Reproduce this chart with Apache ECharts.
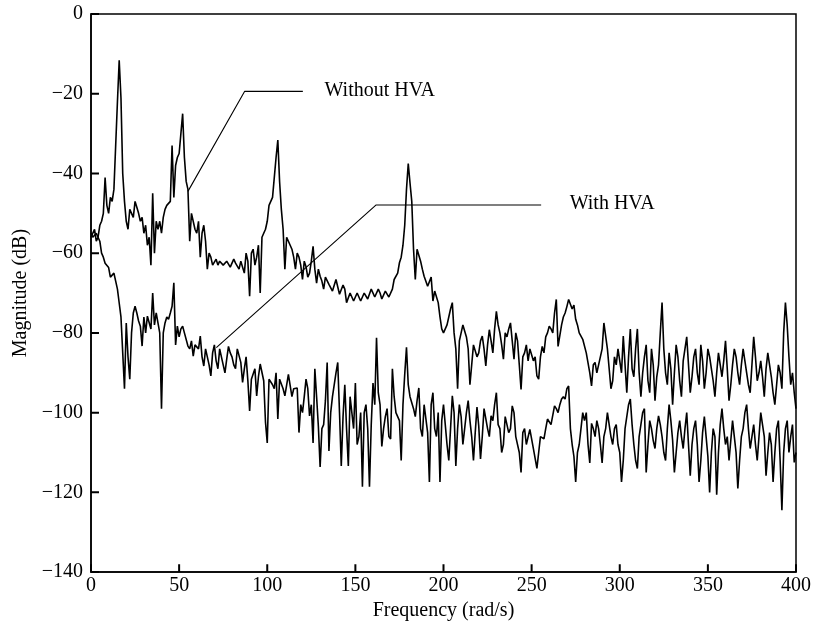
<!DOCTYPE html>
<html>
<head>
<meta charset="utf-8">
<script src="https://cdn.jsdelivr.net/npm/echarts@6/dist/echarts.min.js"></script>
<style>
html,body{margin:0;padding:0;background:#fff;}
#chart{width:814px;height:626px;}
</style>
</head>
<body>
<div id="chart"></div>
<script>
// Frequency grid (rad/s), step 1: x = 0,1,...,400
const step = 1;
// Without HVA magnitude (dB)
const withoutHVA = [
-56,-55,-54,-57,-56,-53,-52,-50,-41,-48,
-50,-46,-47,-44,-33,-22,-11.6,-21,-40,-47,
-52,-54,-49,-50,-51,-47,-48.5,-50,-52,-51,
-55,-53,-58,-56,-63,-45,-60,-52,-54,-52,
-55,-51,-49,-48,-48.5,-47,-33,-46,-38,-36,
-35,-30,-25,-36,-42,-44,-57,-50,-50,-54,
-55,-52,-61,-55,-53,-57,-64,-60,-61,-63,
-62.5,-61.5,-63,-62,-62,-63,-63.5,-62,-62,-63.5,
-63,-61.5,-62.5,-63,-64,-62,-62,-65,-60,-62,
-70.8,-60,-59,-63,-61,-58,-70,-56,-55,-54,
-52,-48,-48,-46,-45.8,-36,-31.6,-42,-49,-54,
-64,-56,-57,-58,-59,-61,-64,-60,-61,-63,
-66.6,-62,-63.4,-66,-65,-62,-58.3,-64,-67.5,-64,
-65.8,-67,-69,-66,-66,-67.8,-68,-69.5,-69.5,-66.6,
-66.6,-70.3,-70.3,-68,-69,-72.4,-72.4,-70,-71,-72,
-72,-70,-70.5,-72,-71.5,-70,-70,-71.5,-71,-69,
-68.8,-71,-70.5,-69,-70,-71.5,-71,-69.5,-70,-71,
-70.5,-69,-66.6,-67,-65,-62.4,-61,-58,-53,-44,
-37.5,-42.4,-47,-59,-66.6,-59,-59,-62,-64,-65.8,
-66,-68.3,-68.3,-66,-72,-69.5,-70,-72.4,-76,-79,
-80,-79,-78,-76,-74,-72.4,-80,-84,-94,-82,
-80,-78,-78,-81,-84,-93,-93,-83,-83,-86,
-85,-82,-80.8,-84,-88.3,-83,-79.2,-82,-85,-79,
-74.6,-78,-80,-83,-86.6,-80,-81,-79,-77.5,-82,
-86.6,-80,-82,-88,-94.2,-86,-85,-83,-87,-84,
-84,-87,-86,-90.8,-91.6,-86,-83.4,-85,-81,-80,
-78.3,-79,-80,-75,-71.6,-83.4,-83.4,-78,-76,-75,
-73.4,-71.6,-71.6,-74,-73,-76.6,-78,-80,-80,-81.6,
-81.6,-85,-85,-90,-93.3,-88,-87.4,-90,-88,-86,
-84,-77.5,-77.5,-84,-89,-94,-92,-86,-88,-84,
-84,-90,-80.8,-88,-95,-86,-79,-89,-91,-84,
-79,-90,-96,-90,-86,-83,-92,-95,-84,-88,
-97,-91,-88,-80,-72.4,-84,-90,-93,-85,-89,
-98,-90,-83,-86,-92,-96,-87,-84,-81,-88,
-95,-91,-86,-84,-90,-93,-83,-87,-94,-90,
-84,-86,-89,-92,-96,-90,-85,-88,-91,-87,
-82,-89,-97,-93,-88,-84,-86,-90,-93,-88,
-84,-87,-90,-93,-95,-88,-81,-86,-92,-90,
-87,-91,-96,-89,-85,-88,-91,-95,-98,-93,
-88,-90,-94,-80,-72.4,-78,-86,-93,-90,-95,
-99
];
// With HVA magnitude (dB)
const withHVA = [
-55,-56,-56,-55,-54.5,-57,-60,-61,-62.5,-63,
-63.6,-66,-66,-65,-67,-69,-72.5,-76,-85,-94,
-77.5,-86,-91.6,-80,-75,-73.3,-75,-77,-78.3,-83.3,
-76,-80,-75.8,-76,-79,-70,-78,-75,-77.5,-80,
-99,-80,-77.5,-76,-76.6,-75,-73.3,-67.4,-83,-78.3,
-81,-79,-78.3,-80,-80.5,-83.3,-84,-82,-85.8,-83,
-82.5,-84,-80.8,-86,-88.3,-84,-84,-88,-90.8,-85,
-83,-87,-89,-84,-84,-88,-90,-86.6,-83.4,-85,
-86,-88,-89,-84,-84,-87.4,-92.4,-89,-86,-92,
-99.6,-91.6,-91.6,-89,-95.8,-91,-87.8,-87.4,-92,-102.4,
-107.6,-91.6,-91.6,-93,-94,-90,-101.6,-91.6,-91.6,-94,
-95.8,-95.8,-90.4,-90.4,-96,-94,-93.8,-93.8,-105,-98,
-100,-96,-91.6,-94,-100.8,-98,-107.6,-89,-96,-103.4,
-113.6,-104,-103,-97,-87.4,-109.6,-100,-96,-96,-90,
-87.4,-100,-113.4,-101,-93,-104,-113.4,-96,-100,-104,
-92.6,-108,-106,-100,-118.6,-100,-98,-104,-118.6,-103,
-92.6,-98,-81.2,-95,-98,-108.5,-104,-101,-99,-106,
-106.6,-89,-96,-100,-100,-102,-112,-98,-90.4,-83.6,
-93,-96,-96,-99,-101,-97,-93.8,-104,-106,-98,
-97.5,-105,-117.4,-98,-95,-104,-106,-100,-117.4,-102,
-98,-103,-108,-112,-104,-95.8,-100,-113.4,-104,-98,
-101,-108,-104,-100,-97,-102,-106,-112,-105,-98.6,
-103.4,-111.6,-106,-99,-99,-104,-106,-100.8,-102,-98,
-95,-103,-104,-110,-108,-101,-101,-105,-104,-98.3,
-100,-106,-106,-110,-115,-105,-104,-108,-108,-104.2,
-104,-109,-109,-114,-110,-106,-106,-106.6,-104,-101.6,
-101.6,-103,-103,-98.3,-99,-100,-98,-96.6,-96,-96.6,
-94,-93.3,-104,-108,-111,-117.4,-110,-108,-104,-100,
-102,-100,-108,-112.6,-102.7,-104,-106,-102,-104,-108,
-112.6,-106,-104,-100,-100,-106,-108,-104,-103,-108,
-110,-117.4,-112,-104,-101,-98,-96.6,-103,-108,-112,
-114,-106,-103,-100,-99,-115,-108,-102,-104,-107,
-109,-104,-100.8,-103,-106,-110,-112,-104,-98,-102,
-107,-115,-110,-105,-102,-106,-109,-104,-100,-108,
-115.8,-108,-104,-102,-108,-117.4,-112,-105,-101,-106,
-111,-120,-110,-104,-106,-120.6,-110,-103,-99,-104,
-108,-106,-112,-107,-102,-106,-110,-119,-112,-106,
-104,-100,-98,-104,-109,-106,-103,-108,-112,-106,
-100,-103,-106,-115.8,-110,-105,-108,-117.4,-110,-104,
-102,-112,-124.5,-110,-104,-102,-110,-106,-103,-112.5,
-110
];
const xTicks = [0,50,100,150,200,250,300,350,400];
const yTicks = [0,-20,-40,-60,-80,-100,-120,-140];
// Leader lines for the labels (data coordinates)
const withoutLeader = [[55,-44.5],[87.2,-19.4],[120.2,-19.4]];
const withLeader = [[71.1,-83.7],[161.8,-47.9],[255.4,-47.9]];
const withoutLabel = {text:'Without HVA', at:[132.5,-19.4]};
const withLabel = {text:'With HVA', at:[271.6,-47.9]};

const pairs = arr => arr.map((v,i)=>[i*step, v]);
const font = 'Liberation Serif, Times New Roman, serif';
const xMin = xTicks[0], xMax = xTicks[xTicks.length-1];
const yMin = yTicks[yTicks.length-1], yMax = yTicks[0];

// grid geometry
const G = {left:91, right:17, top:14, bottom:52, width:814, height:626};
const plotW = G.width - G.left - G.right;
const plotH = G.height - G.top - G.bottom;
const tickPx = 8;
const tickDX = tickPx * (xMax - xMin) / plotW;
const tickDY = tickPx * (yMax - yMin) / plotH;

// inward tick marks as one broken line per axis (gaps via '-')
const xTickData = [];
xTicks.forEach(t => { xTickData.push([t, yMin], [t, yMin + tickDY], [t, '-']); });
const yTickData = [];
yTicks.forEach(t => { yTickData.push([xMin, t], [xMin + tickDX, t], ['-', t]); });

const chart = echarts.init(document.getElementById('chart'), null, {renderer:'canvas'});
const option = {
  animation:false,
  backgroundColor:'#fff',
  grid:{left:G.left, right:G.right, top:G.top, bottom:G.bottom, show:true, borderColor:'#000', borderWidth:1.5, backgroundColor:'transparent'},
  xAxis:{
    type:'value', min:xMin, max:xMax, interval:50,
    name:'Frequency (rad/s)', nameLocation:'middle', nameGap:24,
    nameTextStyle:{fontFamily:font, fontSize:20, color:'#000'},
    axisLine:{show:true, onZero:false, lineStyle:{color:'#000', width:1.5}},
    axisTick:{show:false},
    axisLabel:{fontFamily:font, fontSize:20, color:'#000', margin:4},
    splitLine:{show:false}
  },
  yAxis:{
    type:'value', min:yMin, max:yMax, interval:20,
    name:'Magnitude (dB)', nameLocation:'middle', nameGap:60,
    nameTextStyle:{fontFamily:font, fontSize:20, color:'#000'},
    axisLine:{show:true, onZero:false, lineStyle:{color:'#000', width:1.5}},
    axisTick:{show:false},
    axisLabel:{fontFamily:font, fontSize:20, color:'#000', margin:8,
      formatter: v => (v<0 ? '\u2212'+Math.abs(v) : String(v))},
    splitLine:{show:false}
  },
  series:[
    {name:'Without HVA', type:'line', data:pairs(withoutHVA), showSymbol:false, symbol:'none',
      lineStyle:{color:'#000', width:1.6}},
    {name:'With HVA', type:'line', data:pairs(withHVA), showSymbol:false, symbol:'none',
      lineStyle:{color:'#000', width:1.6}},
    {name:'leader1', type:'line', data:withoutLeader, showSymbol:false, symbol:'none', silent:true,
      lineStyle:{color:'#000', width:1.1}},
    {name:'leader2', type:'line', data:withLeader, showSymbol:false, symbol:'none', silent:true,
      lineStyle:{color:'#000', width:1.1}},
    {name:'xTickMarks', type:'line', data:xTickData, connectNulls:false, showSymbol:false, symbol:'none',
      silent:true, clip:false, lineStyle:{color:'#000', width:2}, z:20},
    {name:'yTickMarks', type:'line', data:yTickData, connectNulls:false, showSymbol:false, symbol:'none',
      silent:true, clip:false, lineStyle:{color:'#000', width:2}, z:20}
  ]
};
chart.setOption(option);

const p1 = chart.convertToPixel({gridIndex:0}, withoutLabel.at);
const p2 = chart.convertToPixel({gridIndex:0}, withLabel.at);
chart.setOption({
  graphic:[
    {type:'text', left:p1[0], top:p1[1]-11, style:{text:withoutLabel.text, font:'20px '+font, fill:'#000'}},
    {type:'text', left:p2[0], top:p2[1]-11, style:{text:withLabel.text, font:'20px '+font, fill:'#000'}}
  ]
});
</script>
</body>
</html>
